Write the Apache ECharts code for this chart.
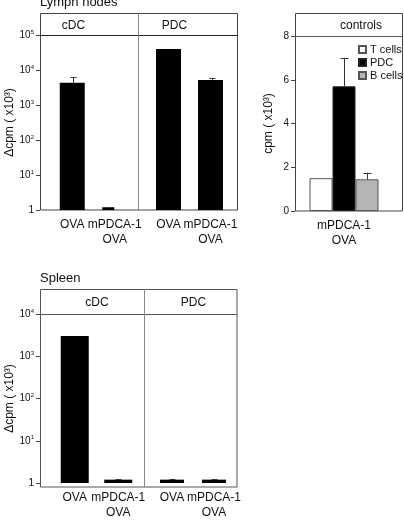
<!DOCTYPE html>
<html><head><meta charset="utf-8">
<script src="https://cdn.jsdelivr.net/npm/echarts@6/dist/echarts.min.js"></script>
<style>html,body{margin:0;padding:0;background:#fff}#c{width:404px;height:520px}</style>
</head><body><div id="c"></div>
<script>
// ---- data ----
const categories = ['OVA', 'mPDCA-1\nOVA'];
const lnCdcOva = [4300, '-'];          // Lymph nodes, cDC
const lnCdcMpdca = ['-', 1.2];
const lnCdcErr = [6300, null];
const lnPdc = [40000, 5200];           // Lymph nodes, PDC
const lnPdcErr = [null, 5900];
const spCdc = [3000, 1.2];             // Spleen, cDC
const spCdcErr = [null, 1.25];
const spPdc = [1.2, 1.2];              // Spleen, PDC
const spPdcErr = [1.25, 1.25];
const controlCats = ['mPDCA-1\nOVA'];
const tCells = [1.5];
const pdcCells = [5.7];
const pdcErr = [7.0];
const bCells = [1.45];
const bErr = [1.75];
const logTicks = [1, 10, 100, 1000, 10000, 100000];
const logTicksSpleen = [1, 10, 100, 1000, 10000];
const linTicks = [0, 2, 4, 6, 8];

const FONT = 'Liberation Sans, Arial, sans-serif';
const TXT = '#111';
const FRAME = '#444';
const DIV = '#888';

function logLabel(v) {
  const e = Math.round(Math.log10(v));
  return e === 0 ? '{b|1}' : '{b|10}{s|' + e + '}';
}
const logRich = {
  b: {fontSize: 10, color: TXT, fontFamily: FONT, lineHeight: 12},
  s: {fontSize: 6, color: TXT, fontFamily: FONT, lineHeight: 12, verticalAlign: 'top'}
};

function logY(gridIndex, max, ticks, offset, show, name) {
  return {
    type: 'log', logBase: 10, gridIndex, min: 1, max, offset, show,
    name: name || '', nameLocation: 'middle', nameGap: 24, nameRotate: 90,
    nameTextStyle: {fontSize: 12, color: TXT, fontFamily: FONT},
    axisLine: {show: false},
    axisTick: {show: true, length: 4, inside: false, lineStyle: {color: FRAME}, customValues: ticks},
    axisLabel: {show: true, margin: 6, formatter: logLabel, rich: logRich, customValues: ticks},
    splitLine: {show: false}, minorTick: {show: false}
  };
}
function catX(gridIndex, data) {
  return {
    type: 'category', gridIndex, data,
    axisLine: {show: false}, axisTick: {show: false},
    axisLabel: {fontSize: 12, color: TXT, fontFamily: FONT, lineHeight: 15, margin: 7, interval: 0},
    splitLine: {show: false}
  };
}
function toErr(vals, errs) {
  const out = [];
  for (let i = 0; i < vals.length; i++) {
    if (errs[i] != null) out.push([i, vals[i], errs[i]]);
  }
  return out;
}
function errSeries(xi, yi, data, dx, cap) {
  return {
    type: 'custom', xAxisIndex: xi, yAxisIndex: yi, data, silent: true, z: 5,
    encode: {x: 0, y: [1, 2]},
    renderItem: function (params, api) {
      const p0 = api.coord([api.value(0), api.value(1)]);
      const p1 = api.coord([api.value(0), api.value(2)]);
      const x = Math.round(p0[0] + dx) + 0.5;
      return {
        type: 'group',
        children: [
          {type: 'line', shape: {x1: x, y1: p0[1], x2: x, y2: p1[1]}, style: {stroke: '#333', lineWidth: 1}},
          {type: 'line', shape: {x1: x - cap, y1: Math.round(p1[1]) + 0.5, x2: x + cap, y2: Math.round(p1[1]) + 0.5}, style: {stroke: '#333', lineWidth: 1}}
        ]
      };
    }
  };
}
const black = {color: '#000'};

const chart = echarts.init(document.getElementById('c'), null, {renderer: 'canvas'});
const option = {
  animation: false,
  textStyle: {fontFamily: FONT},
  grid: [
    {left: 51, top: 35, width: 85, height: 175},     // LN cDC
    {left: 147.5, top: 35, width: 84, height: 175},  // LN PDC
    {left: 295, top: 36, width: 98, height: 175},    // controls
    {left: 53, top: 314, width: 87, height: 173},    // Spleen cDC
    {left: 151, top: 314, width: 84, height: 173}    // Spleen PDC
  ],
  xAxis: [catX(0, categories), catX(1, categories), catX(2, controlCats), catX(3, categories), catX(4, categories)],
  yAxis: [
    logY(0, 100000, logTicks, 11, true, 'Δcpm ( x10³)'),
    logY(1, 100000, logTicks, 0, false),
    {
      type: 'value', gridIndex: 2, min: 0, max: 8, interval: 2,
      name: 'cpm ( x10³)', nameLocation: 'middle', nameGap: 20, nameRotate: 90,
      nameTextStyle: {fontSize: 12, color: TXT, fontFamily: FONT},
      axisLine: {show: false},
      axisTick: {show: true, length: 4, lineStyle: {color: FRAME}, customValues: linTicks},
      axisLabel: {fontSize: 10, color: TXT, fontFamily: FONT, margin: 6, customValues: linTicks},
      splitLine: {show: false}
    },
    logY(3, 10000, logTicksSpleen, 13, true, 'Δcpm ( x10³)'),
    logY(4, 10000, logTicksSpleen, 0, false)
  ],
  legend: {
    data: ['T cells', 'PDC', 'B cells'], orient: 'vertical', left: 353, top: 39,
    itemWidth: 7, itemHeight: 7, itemGap: 2, icon: 'rect',
    textStyle: {fontSize: 11, color: TXT, fontFamily: FONT, padding: [0, 0, 0, -1]}
  },
  series: [
    {type: 'bar', name: 'lnCdcM', xAxisIndex: 0, yAxisIndex: 0, data: lnCdcMpdca, barWidth: 12, barGap: '-100%', itemStyle: black},
    {type: 'bar', name: 'lnCdcO', xAxisIndex: 0, yAxisIndex: 0, data: lnCdcOva, barWidth: 25, barGap: '-100%', itemStyle: black},
    errSeries(0, 0, toErr(lnCdcOva, lnCdcErr), 1, 3),
    {type: 'bar', name: 'lnPdc', xAxisIndex: 1, yAxisIndex: 1, data: lnPdc, barWidth: 25, itemStyle: black},
    errSeries(1, 1, toErr(lnPdc, lnPdcErr), 1, 3),
    {type: 'bar', name: 'T cells', xAxisIndex: 2, yAxisIndex: 2, data: tCells, barWidth: 23, barGap: '0%',
      itemStyle: {color: '#fff', borderColor: '#555', borderWidth: 1}},
    {type: 'bar', name: 'PDC', xAxisIndex: 2, yAxisIndex: 2, data: pdcCells, barWidth: 23, barGap: '0%',
      itemStyle: {color: '#000', borderColor: '#222', borderWidth: 1}},
    {type: 'bar', name: 'B cells', xAxisIndex: 2, yAxisIndex: 2, data: bCells, barWidth: 23, barGap: '0%',
      itemStyle: {color: '#b5b5b5', borderColor: '#555', borderWidth: 1}},
    errSeries(2, 2, toErr(pdcCells, pdcErr), 0, 4),
    errSeries(2, 2, toErr(bCells, bErr), 23, 4),
    {type: 'bar', name: 'spCdc', xAxisIndex: 3, yAxisIndex: 3, data: spCdc, barWidth: 28, itemStyle: black},
    errSeries(3, 3, toErr(spCdc, spCdcErr), 0, 3),
    {type: 'bar', name: 'spPdc', xAxisIndex: 4, yAxisIndex: 4, data: spPdc, barWidth: 24, itemStyle: black},
    errSeries(4, 4, toErr(spPdc, spPdcErr), 0, 3)
  ],
  graphic: [
    {type: 'text', left: 40, top: -4, style: {text: 'Lymph nodes', font: '13px ' + FONT, fill: TXT}},
    {type: 'rect', shape: {x: 40.5, y: 13.5, width: 197, height: 196.5}, style: {fill: 'none', stroke: FRAME, lineWidth: 1}},
    {type: 'line', shape: {x1: 40, y1: 35.5, x2: 238, y2: 35.5}, style: {stroke: '#222', lineWidth: 1}},
    {type: 'line', shape: {x1: 138.5, y1: 13, x2: 138.5, y2: 210}, style: {stroke: DIV, lineWidth: 1}},
    {type: 'text', x: 73.5, y: 26, style: {text: 'cDC', font: '12px ' + FONT, fill: TXT, align: 'center', verticalAlign: 'middle'}},
    {type: 'text', x: 174.5, y: 26, style: {text: 'PDC', font: '12px ' + FONT, fill: TXT, align: 'center', verticalAlign: 'middle'}},

    {type: 'rect', shape: {x: 295.5, y: 13.5, width: 107, height: 197.5}, style: {fill: 'none', stroke: FRAME, lineWidth: 1}},
    {type: 'line', shape: {x1: 295, y1: 36.5, x2: 403, y2: 36.5}, style: {stroke: '#555', lineWidth: 1}},
    {type: 'text', x: 361, y: 26, style: {text: 'controls', font: '12px ' + FONT, fill: TXT, align: 'center', verticalAlign: 'middle'}},

    {type: 'text', x: 40, y: 278, style: {text: 'Spleen', font: '13px ' + FONT, fill: TXT, verticalAlign: 'middle'}},
    {type: 'rect', shape: {x: 40.5, y: 289.5, width: 196.5, height: 197.5}, style: {fill: 'none', stroke: '#555', lineWidth: 1}},
    {type: 'line', shape: {x1: 40, y1: 314.5, x2: 237, y2: 314.5}, style: {stroke: '#555', lineWidth: 1}},
    {type: 'line', shape: {x1: 144.5, y1: 289, x2: 144.5, y2: 487}, style: {stroke: DIV, lineWidth: 1}},
    {type: 'text', x: 97, y: 303, style: {text: 'cDC', font: '12px ' + FONT, fill: TXT, align: 'center', verticalAlign: 'middle'}},
    {type: 'text', x: 193.5, y: 303, style: {text: 'PDC', font: '12px ' + FONT, fill: TXT, align: 'center', verticalAlign: 'middle'}}
  ]
};
chart.setOption(option);
</script>
</body></html>
